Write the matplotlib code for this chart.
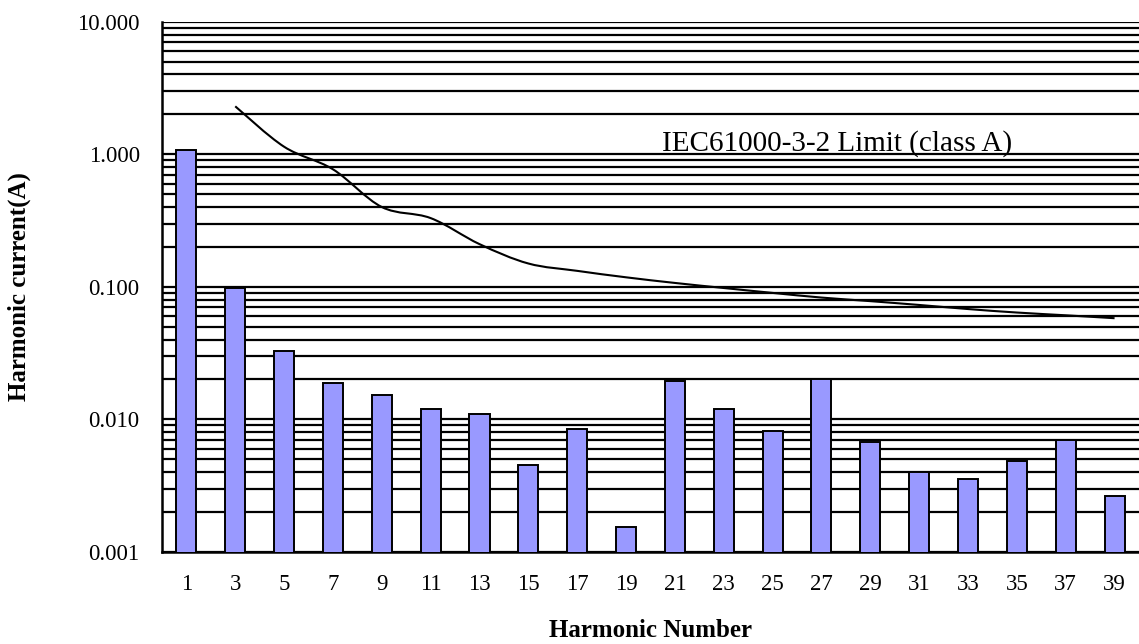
import numpy as np
import matplotlib
matplotlib.use("Agg")
import matplotlib.pyplot as plt
from matplotlib.path import Path
from matplotlib.patches import PathPatch

plt.rcParams['font.family'] = ['Liberation Serif', 'DejaVu Serif']

harmonics = [1, 3, 5, 7, 9, 11, 13, 15, 17, 19, 21, 23, 25, 27, 29, 31, 33, 35, 37, 39]
current = [1.08, 0.098, 0.033, 0.0189, 0.0154, 0.0119, 0.0110, 0.00451, 0.00846, 0.00153,
           0.0194, 0.0119, 0.0082, 0.0200, 0.0067, 0.00404, 0.00356, 0.00485, 0.00695, 0.00264]

limit_harmonics = [3, 5, 7, 9, 11, 13, 15, 17, 19, 21, 23, 25, 27, 29, 31, 33, 35, 37, 39]
limit_values = [2.30, 1.14, 0.77, 0.40, 0.33, 0.21, 0.150, 0.132, 0.118, 0.107, 0.098,
                0.090, 0.083, 0.078, 0.073, 0.068, 0.064, 0.061, 0.058]

fig = plt.figure(figsize=(11.39, 6.44), dpi=100)
ax = fig.add_axes([0.1422, 0.1429, 0.8578, 0.8234])

pos = np.arange(len(harmonics))
ax.bar(pos, current, width=0.41, color='#9999ff', edgecolor='black', linewidth=1.4, zorder=3)

# smoothed limit curve (Catmull-Rom style, like Excel's smoothed line)
lx = np.array([harmonics.index(h) for h in limit_harmonics], dtype=float)
ly = np.log10(limit_values)
verts = [(lx[0], limit_values[0])]
codes = [Path.MOVETO]
n = len(lx)
for i in range(n - 1):
    p0 = (lx[max(i - 1, 0)], ly[max(i - 1, 0)])
    p1 = (lx[i], ly[i])
    p2 = (lx[i + 1], ly[i + 1])
    p3 = (lx[min(i + 2, n - 1)], ly[min(i + 2, n - 1)])
    c1 = (p1[0] + (p2[0] - p0[0]) / 6, p1[1] + (p2[1] - p0[1]) / 6)
    c2 = (p2[0] - (p3[0] - p1[0]) / 6, p2[1] - (p3[1] - p1[1]) / 6)
    for c in (c1, c2, p2):
        verts.append((c[0], 10 ** c[1]))
        codes.append(Path.CURVE4)
ax.add_patch(PathPatch(Path(verts, codes), facecolor='none', edgecolor='black',
                       linewidth=1.5, zorder=4))

ax.set_yscale('log')
ax.set_ylim(0.001, 10)
ax.set_xlim(-0.5, len(harmonics) - 0.5)
ax.set_xticks(pos)
ax.set_xticklabels([str(h) for h in harmonics])
ax.set_yticks([0.001, 0.01, 0.1, 1, 10])
ax.set_yticklabels(['0.001', '0.010', '0.100', '1.000', '10.000'])
ax.yaxis.set_minor_locator(matplotlib.ticker.LogLocator(base=10, subs=np.arange(2, 10)))
ax.yaxis.set_minor_formatter(matplotlib.ticker.NullFormatter())

ax.grid(True, which='both', axis='y', color='black', linewidth=1.6)
ax.set_axisbelow(True)
ax.tick_params(axis='x', length=0, pad=16, labelsize=16.5)
ax.tick_params(axis='y', which='major', length=0, pad=16, labelsize=16.5)
ax.tick_params(axis='y', which='minor', length=0)

for s in ['top', 'right']:
    ax.spines[s].set_visible(False)
for s in ['left', 'bottom']:
    ax.spines[s].set_linewidth(1.8)

ax.text(9.73, 1.07, 'IEC61000-3-2 Limit (class A)', fontsize=21, ha='left', va='baseline')

ax.set_xlabel('Harmonic Number', fontsize=18, fontweight='bold', labelpad=17)
ax.set_ylabel('Harmonic current(A)', fontsize=18, fontweight='bold', labelpad=33)

fig.savefig('out.png', dpi=100)
